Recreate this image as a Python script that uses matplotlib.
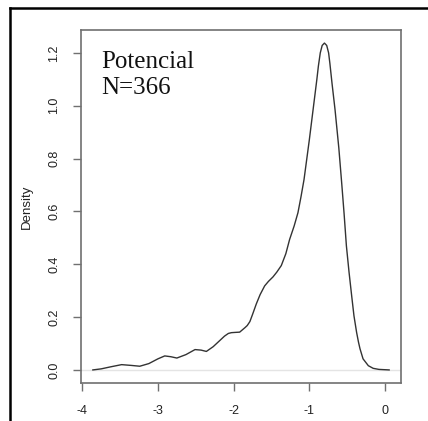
import numpy as np
import matplotlib.pyplot as plt
from matplotlib.lines import Line2D

# Kernel density estimate
dens_x = [-3.86, -3.75, -3.62, -3.48, -3.35, -3.24, -3.12, -3.00, -2.91, -2.83,
          -2.75, -2.63, -2.51, -2.43, -2.36, -2.27, -2.18, -2.12, -2.07, -2.03,
          -1.98, -1.92, -1.85, -1.82, -1.785, -1.75, -1.70, -1.65, -1.59, -1.54,
          -1.48, -1.43, -1.37, -1.31, -1.26, -1.20, -1.15, -1.11, -1.07, -1.00,
          -0.95, -0.90, -0.88, -0.855, -0.83, -0.80, -0.77, -0.745, -0.728,
          -0.70, -0.66, -0.61, -0.57, -0.54, -0.51, -0.475, -0.44, -0.41,
          -0.375, -0.35, -0.33, -0.29, -0.22, -0.156, -0.08, 0.055]
dens_y = [0.000, 0.004, 0.012, 0.020, 0.017, 0.014, 0.024, 0.042, 0.053, 0.050,
          0.045, 0.058, 0.077, 0.075, 0.070, 0.088, 0.112, 0.128, 0.138, 0.141,
          0.142, 0.143, 0.160, 0.168, 0.183, 0.210, 0.250, 0.285, 0.318, 0.335,
          0.352, 0.370, 0.395, 0.440, 0.494, 0.545, 0.595, 0.655, 0.720, 0.870,
          0.985, 1.100, 1.150, 1.200, 1.228, 1.237, 1.228, 1.200, 1.160,
          1.085, 0.985, 0.840, 0.700, 0.590, 0.470, 0.370, 0.280, 0.205,
          0.142, 0.105, 0.080, 0.042, 0.016, 0.006, 0.002, 0.000]

x_ticks = [-4, -3, -2, -1, 0]
y_ticks = [0.0, 0.2, 0.4, 0.6, 0.8, 1.0, 1.2]
y_tick_labels = ["0.0", "0.2", "0.4", "0.6", "0.8", "1.0", "1.2"]

plt.rcParams['font.family'] = ['Liberation Sans', 'DejaVu Sans']

fig = plt.figure(figsize=(4.28, 4.21), dpi=100)
ax = fig.add_axes([81 / 428, 1 - 383 / 421, 320 / 428, 353 / 421])

# R-style 4% padding around the data range
xr = dens_x[-1] - dens_x[0]
ax.set_xlim(dens_x[0] - 0.04 * xr, dens_x[-1] + 0.04 * xr)
ymax = max(dens_y)
ax.set_ylim(-0.04 * ymax, 1.04 * ymax)

ax.axhline(0, color='#e4e4e4', lw=1.0, zorder=1)
ax.plot(dens_x, dens_y, color='#333333', lw=1.0, zorder=2,
        solid_joinstyle='round')

box_col = '#707070'
for s in ax.spines.values():
    s.set_color(box_col)
    s.set_linewidth(1.2)

ax.set_xticks(x_ticks)
ax.set_xticklabels([str(t) for t in x_ticks])
ax.set_yticks(y_ticks)
ax.set_yticklabels(y_tick_labels, rotation=90, va='center')
ax.tick_params(axis='both', direction='out', length=6, width=1, color=box_col,
               labelsize=9, labelcolor='#222222')
ax.tick_params(axis='x', pad=10)
ax.tick_params(axis='y', pad=9)

ax.set_ylabel('Density', fontsize=9.5, color='#222222', labelpad=11)

ax.text(0.063, 0.94, 'Potencial\nN=366', transform=ax.transAxes,
        ha='left', va='top', fontsize=18, family='Liberation Serif',
        linespacing=1.2, color='#111111')

# Outer frame (top and left edges)
fig.add_artist(Line2D([10 / 428, 1], [1 - 8 / 421, 1 - 8 / 421],
                      transform=fig.transFigure, color='black', lw=1.8))
fig.add_artist(Line2D([10 / 428, 10 / 428], [0, 1 - 8 / 421],
                      transform=fig.transFigure, color='black', lw=1.8))

fig.savefig('out.png', dpi=100)
